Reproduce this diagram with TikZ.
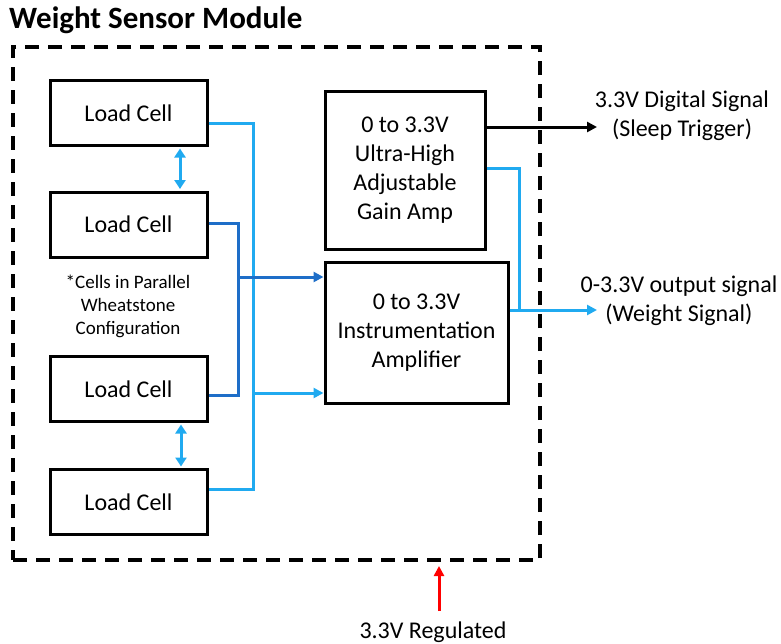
\documentclass[tikz,border=0pt]{standalone}
\usepackage{fontspec}
\setmainfont{Carlito}
\usetikzlibrary{arrows.meta,calc}
\definecolor{lblue}{RGB}{32,170,240}
\definecolor{dblue}{RGB}{30,110,200}
\definecolor{arred}{RGB}{255,0,0}
\begin{document}
\begin{tikzpicture}[x=1pt,y=-1pt,
  box/.style={draw,line width=3pt,inner sep=0pt,align=center,font=\fontsize{24}{29}\selectfont},
  cellbox/.style={box,minimum width=157pt,minimum height=65pt},
  conn/.style={line width=3pt},
  tip/.style={-{Triangle[length=10pt,width=10pt]}},
  dtip/.style={{Triangle[length=9pt,width=11pt]}-{Triangle[length=9pt,width=11pt]}},
  lbl/.style={align=center,font=\fontsize{24}{29}\selectfont,inner sep=0pt}]
\useasboundingbox (0,0) rectangle (781,643);
\node[anchor=base west,inner sep=0pt,font=\fontsize{31}{37}\bfseries\selectfont] (title) at (9,28) {Weight Sensor Module};
\node[draw,line width=3.5pt,dash pattern=on 14pt off 9pt,minimum width=527pt,minimum height=513pt,inner sep=0pt] (module) at (276.5,303.5) {};

\node[cellbox] (lc1) at (128.5,113) {Load Cell};
\node[cellbox] (lc2) at (128.5,224.5) {Load Cell};
\node[cellbox] (lc3) at (128.5,389) {Load Cell};
\node[cellbox] (lc4) at (128.5,502) {Load Cell};
\node[lbl,font=\fontsize{19}{23}\selectfont] (note) at (128,306) {*Cells in Parallel\\Wheatstone\\Configuration};

\node[box,minimum width=160pt,minimum height=158pt] (ga) at (405,170) {0 to 3.3V\\Ultra-High\\Adjustable\\Gain Amp};
\node[box,minimum width=183pt,minimum height=141pt] (ia) at (416.5,332.5) {0 to 3.3V\\Instrumentation\\Amplifier};

\node[lbl] (dig) at (682,116) {3.3V Digital Signal\\(Sleep Trigger)};
\node[lbl] (wout) at (679,301) {0-3.3V output signal\\(Weight Signal)};
\node[lbl,anchor=base] (reg) at (433,638) {3.3V Regulated};

\coordinate (digtip) at (597,127);
\coordinate (wtip) at (597,310);
\coordinate (rtip) at (439,566);

% double arrows between cells
\draw[conn,lblue,dtip] ($(lc1.south)+(51.5,1.5)$) -- ($(lc2.north)+(51.5,-1.5)$);
\draw[conn,lblue,dtip] ($(lc3.south)+(52.5,1.5)$) -- ($(lc4.north)+(52.5,-1.5)$);

% light blue bus
\draw[conn,lblue] ($(lc1.east)+(0,10)$) -- (253,123) -- (253,489) -- ($(lc4.east)+(0,-13)$);
\draw[conn,lblue,tip] (253,393) -- ($(ia.west)+(0,60.5)$);

% dark blue bus
\draw[conn,dblue] ($(lc2.east)+(0,-1.5)$) -- (238,223) -- (238,395) -- ($(lc3.east)+(0,6)$);
\draw[conn,dblue,tip] (238,277) -- ($(ia.west)+(0,-55.5)$);

% outputs
\draw[conn,black,tip] ($(ga.east)+(0,-43)$) -- (digtip);
\draw[conn,lblue] ($(ga.east)+(0,-2)$) -- (519,168) -- (519,310);
\draw[conn,lblue,tip] ($(ia.east)+(0,-22.5)$) -- (wtip);

% regulated supply
\draw[conn,arred,tip] ($(reg.north -| rtip)+(0,-10)$) -- (rtip);
\end{tikzpicture}
\end{document}
